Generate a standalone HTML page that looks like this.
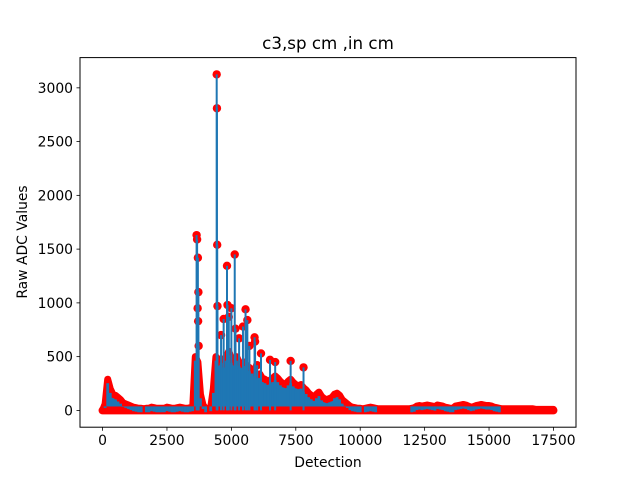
<!DOCTYPE html>
<html><head><meta charset="utf-8"><style>
body{margin:0;background:#fff;font-family:"Liberation Sans","DejaVu Sans",sans-serif}
svg text{font-family:"DejaVu Sans","Liberation Sans",sans-serif}
</style></head><body>
<svg id="chart" width="640" height="480" viewBox="0 0 640 480">
<rect width="640" height="480" fill="#fff"/>
<text x="328" y="49" text-anchor="middle" font-size="16.7">c3,sp cm ,in cm</text>
<text x="328" y="467" text-anchor="middle" font-size="13.9">Detection</text>
<text transform="translate(27,242) rotate(-90)" text-anchor="middle" font-size="13.9">Raw ADC Values</text>
<g id="plot"></g>
<rect x="80" y="57.6" width="496" height="369.6" fill="none" stroke="#000" stroke-width="1"/>
<g id="axes"></g>
</svg>
<script>
const xStep = 100;
const envelope = [0,60,290,200,150,140,120,100,70,60,
50,40,30,25,20,20,15,20,20,30,
25,20,20,20,20,30,25,20,20,25,
30,25,20,20,25,30,500,450,150,50,
20,10,30,200,500,450,480,430,500,550,
480,450,500,450,430,450,400,400,380,350,
330,340,300,290,270,280,300,320,300,270,
250,240,270,290,260,240,230,240,210,190,
160,140,120,150,170,130,110,100,110,120,
150,160,140,100,80,60,40,30,25,20,
20,15,20,25,30,25,20,15,15,15,
15,15,15,15,15,15,15,15,15,15,
20,25,40,45,40,45,50,45,40,35,
50,45,40,30,25,20,20,40,45,50,
55,50,40,30,35,45,50,55,50,45,
45,40,30,25,20,15,15,15,15,15,
15,15,15,15,15,15,15,15,10,10,
10,10,10,10,10,10];
const spikeX = [3650,3670,3690,3700,3710,3720,3730,4430,4440,4450,4460,4700,4830,4850,5000,5130,5160,5450,5550,5620,5900,5920,6150,6500,6700,7300,7800,4600,4900,5300,5700,6000];
const spikeY = [1630,1590,950,1420,830,1100,600,3125,2810,1540,970,850,1345,980,950,1450,760,780,940,840,680,640,530,470,450,460,400,700,870,670,600,420];
const xTicks = [0,2500,5000,7500,10000,12500,15000,17500];
const yTicks = [0,500,1000,1500,2000,2500,3000];

const X0=80,X1=576,Y0=427.2,Y1=57.6;
const xmin=-875,xmax=18375,ymin=-156.25,ymax=3281.25;
const sx=v=>X0+(v-xmin)/(xmax-xmin)*(X1-X0);
const sy=v=>Y0-(v-ymin)/(ymax-ymin)*(Y0-Y1);
const NS='http://www.w3.org/2000/svg';
const plot=document.getElementById('plot'), axes=document.getElementById('axes');
function mk(tag,attrs,parent){const e=document.createElementNS(NS,tag);for(const k in attrs)e.setAttribute(k,attrs[k]);parent.appendChild(e);return e;}

const xMaxData=(envelope.length-1)*xStep;

// envelope stems
envelope.forEach((v,i)=>{
  const l=mk('line',{x1:sx(i*xStep),x2:sx(i*xStep),y1:sy(0),y2:sy(v),stroke:'#1f77b4','stroke-width':2.8},plot);
  
  
});
// baseline
const bl=mk('line',{x1:sx(0),x2:sx(xMaxData),y1:sy(0),y2:sy(0),stroke:'#ff0000','stroke-width':8,'stroke-linecap':'round'},plot);


// dense marker trace along envelope
const pts=envelope.map((v,i)=>sx(i*xStep)+','+sy(v)).join(' ');
const pl=mk('polyline',{points:pts,fill:'none',stroke:'#ff0000','stroke-width':7,'stroke-linejoin':'round','stroke-linecap':'round'},plot);


// re-draw envelope stems inside trace
envelope.forEach((v,i)=>{
  if(v<20) return;
  const l=mk('line',{x1:sx(i*xStep),x2:sx(i*xStep),y1:sy(0)-4,y2:sy(v)+4,stroke:'#1f77b4','stroke-width':2.8},plot);
  
  
});
// spike markers + stems
spikeX.forEach((x,i)=>{
  const c=mk('circle',{cx:sx(x),cy:sy(spikeY[i]),r:4.2,fill:'#ff0000'},plot);
  
  
});
spikeX.forEach((x,i)=>{
  const l=mk('line',{x1:sx(x),x2:sx(x),y1:sy(0),y2:sy(spikeY[i]),stroke:'#1f77b4','stroke-width':2},plot);
  
  
});

xTicks.forEach(t=>{
  const x=sx(t);
  const tk=mk('line',{x1:x,x2:x,y1:Y0,y2:Y0+3.5,stroke:'#000','stroke-width':0.8},axes);
  
  
  const tx=mk('text',{x:x,y:Y0+18,'text-anchor':'middle','font-size':13.9},axes);
  tx.textContent=t;
  
  
});
yTicks.forEach(t=>{
  const y=sy(t);
  const tk=mk('line',{x1:X0-3.5,x2:X0,y1:y,y2:y,stroke:'#000','stroke-width':0.8},axes);
  
  
  const tx=mk('text',{x:X0-7,y:y+5,'text-anchor':'end','font-size':13.9},axes);
  tx.textContent=t;
  
  
});
</script>
</body></html>
